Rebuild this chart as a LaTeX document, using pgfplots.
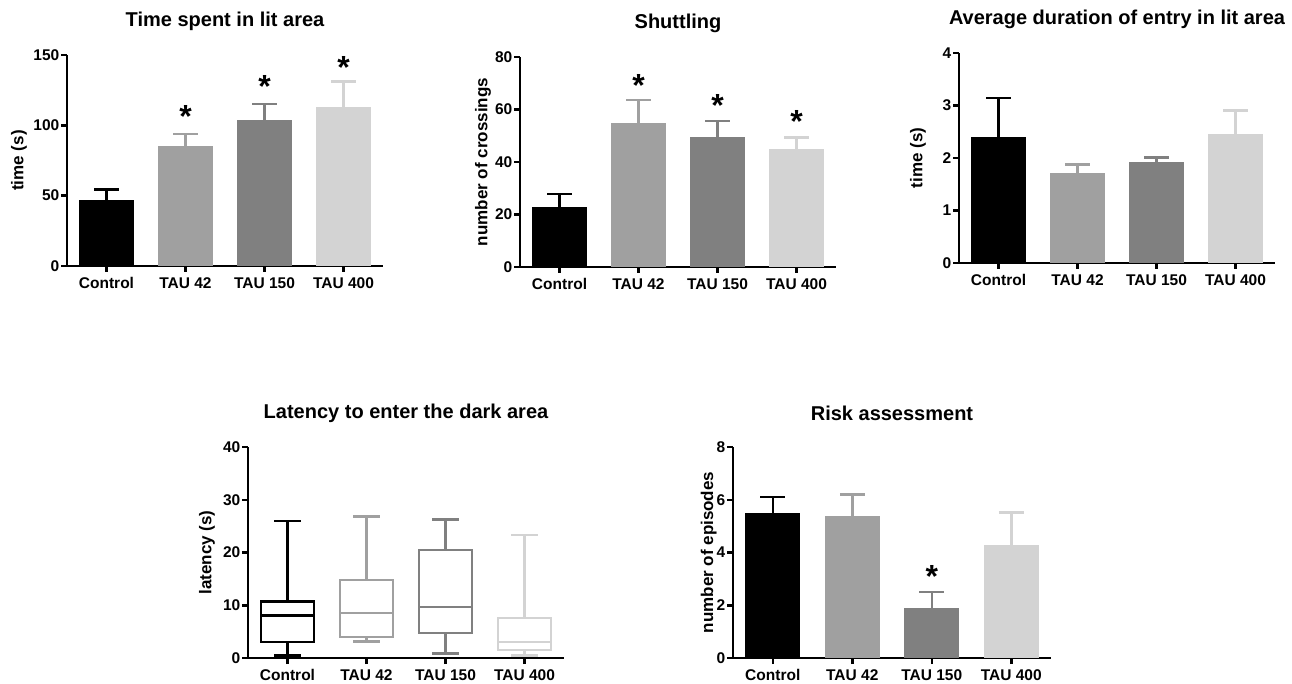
\documentclass[border=0pt]{standalone}
\usepackage{fontspec}
\setmainfont{Liberation Sans}
\usepackage{pgfplots}
\pgfplotsset{compat=1.18}
\usepgfplotslibrary{statistics}
\definecolor{cA}{HTML}{000000}
\definecolor{cB}{HTML}{A0A0A0}
\definecolor{cC}{HTML}{808080}
\definecolor{cD}{HTML}{D3D3D3}
\pgfplotsset{
  panel/.style={
    scale only axis, width=316pt, height=211pt,
    axis x line=bottom, axis y line=left,
    axis line style={-, line width=2.5pt, black},
    xmin=-0.5, xmax=3.5, ymin=0,
    xtick={0,1,2,3}, xticklabels={Control,TAU 42,TAU 150,TAU 400},
    tick align=outside, major tick length=6pt,
    tick style={line width=2.5pt, black},
    ticklabel style={font=\fontsize{15.5}{18}\selectfont\bfseries},
    /pgf/number format/assume math mode=true,
    yticklabel style={inner sep=1.5pt},
    xticklabel style={inner sep=1pt, yshift=-4pt},
    title style={font=\fontsize{20}{24}\selectfont\bfseries, at={(axis description cs:0.5,1)}, anchor=center, yshift=28pt},
    every axis y label/.style={rotate=90, anchor=center, font=\fontsize{17}{20}\selectfont\bfseries},
    clip=false,
  },
  bar/.style={ybar, bar shift=0pt, bar width=55pt, fill=#1, draw=none,
    error bars/.cd, y dir=plus, y explicit, error mark=|,
    error bar style={line width=2.5pt, #1},
    error mark options={line width=2.5pt, #1, mark size=12.5pt}},
  stars/.style={draw=none, mark=none, nodes near coords={*},
    every node near coord/.style={font=\fontsize{32}{32}\selectfont\bfseries, anchor=base, yshift=-19pt, inner sep=0pt}},
  bx/.style={draw=#1, line width=2.5pt, solid, mark=none},
}
\begin{document}
\begin{tikzpicture}
\path[use as bounding box] (0,0) rectangle (1292pt,683pt);

% Panel 1
\begin{axis}[panel, at={(67pt,417pt)}, anchor=south west,
  ymax=150, ytick={0,50,100,150},
  title={Time spent in lit area}, ylabel={time (s)},
  ylabel style={at={(axis description cs:-0.152,0.5)}}]
\addplot[bar=cA] coordinates {(0,47) +- (0,7.5)};
\addplot[bar=cB] coordinates {(1,85) +- (0,9)};
\addplot[bar=cC] coordinates {(2,104) +- (0,11)};
\addplot[bar=cD] coordinates {(3,113) +- (0,18)};
\addplot[stars] coordinates {(1,112) (2,133) (3,146.5)};
\end{axis}

% Panel 2
\begin{axis}[panel, at={(520pt,416pt)}, anchor=south west, height=210pt,
  ymax=80, ytick={0,20,40,60,80},
  title={Shuttling}, ylabel={number of crossings},
  ylabel style={at={(axis description cs:-0.117,0.5)}}]
\addplot[bar=cA] coordinates {(0,22.9) +- (0,4.9)};
\addplot[bar=cB] coordinates {(1,55) +- (0,8.6)};
\addplot[bar=cC] coordinates {(2,49.4) +- (0,6.2)};
\addplot[bar=cD] coordinates {(3,45) +- (0,4.3)};
\addplot[stars] coordinates {(1,72.3) (2,64.6) (3,58.5)};
\end{axis}

% Panel 3
\begin{axis}[panel, at={(959pt,420pt)}, anchor=south west, height=210pt,
  ymax=4, ytick={0,1,2,3,4},
  title={Average duration of entry in lit area}, ylabel={time (s)},
  ylabel style={at={(axis description cs:-0.13,0.5)}}]
\addplot[bar=cA] coordinates {(0,2.4) +- (0,0.74)};
\addplot[bar=cB] coordinates {(1,1.72) +- (0,0.16)};
\addplot[bar=cC] coordinates {(2,1.92) +- (0,0.09)};
\addplot[bar=cD] coordinates {(3,2.45) +- (0,0.45)};
\end{axis}

% Panel 4
\begin{axis}[panel, at={(248pt,25pt)}, anchor=south west,
  ymax=40, ytick={0,10,20,30,40},
  title={Latency to enter the dark area}, ylabel={latency (s)},
  ylabel style={at={(axis description cs:-0.13,0.5)}}]
\addplot[bx=cA, boxplot prepared={draw direction=y, box extend=0.67, whisker extend=0.34, lower whisker=0.5, lower quartile=3.0, median=8.1, upper quartile=10.7, upper whisker=26, draw position=0}] coordinates {};
\addplot[bx=cB, boxplot prepared={draw direction=y, box extend=0.67, whisker extend=0.34, lower whisker=3.1, lower quartile=4.0, median=8.5, upper quartile=14.8, upper whisker=26.8, draw position=1}] coordinates {};
\addplot[bx=cC, boxplot prepared={draw direction=y, box extend=0.67, whisker extend=0.34, lower whisker=0.9, lower quartile=4.7, median=9.7, upper quartile=20.5, upper whisker=26.3, draw position=2}] coordinates {};
\addplot[bx=cD, boxplot prepared={draw direction=y, box extend=0.67, whisker extend=0.34, lower whisker=0.5, lower quartile=1.5, median=3.0, upper quartile=7.6, upper whisker=23.3, draw position=3}] coordinates {};
\end{axis}

% Panel 5
\begin{axis}[panel, at={(733pt,25pt)}, anchor=south west, width=318pt,
  ymax=8, ytick={0,2,4,6,8},
  title={Risk assessment}, ylabel={number of episodes},
  ylabel style={at={(axis description cs:-0.076,0.5)}}]
\addplot[bar=cA] coordinates {(0,5.5) +- (0,0.61)};
\addplot[bar=cB] coordinates {(1,5.38) +- (0,0.82)};
\addplot[bar=cC] coordinates {(2,1.88) +- (0,0.63)};
\addplot[bar=cD] coordinates {(3,4.28) +- (0,1.24)};
\addplot[stars] coordinates {(2,3.4)};
\end{axis}
\end{tikzpicture}
\end{document}
